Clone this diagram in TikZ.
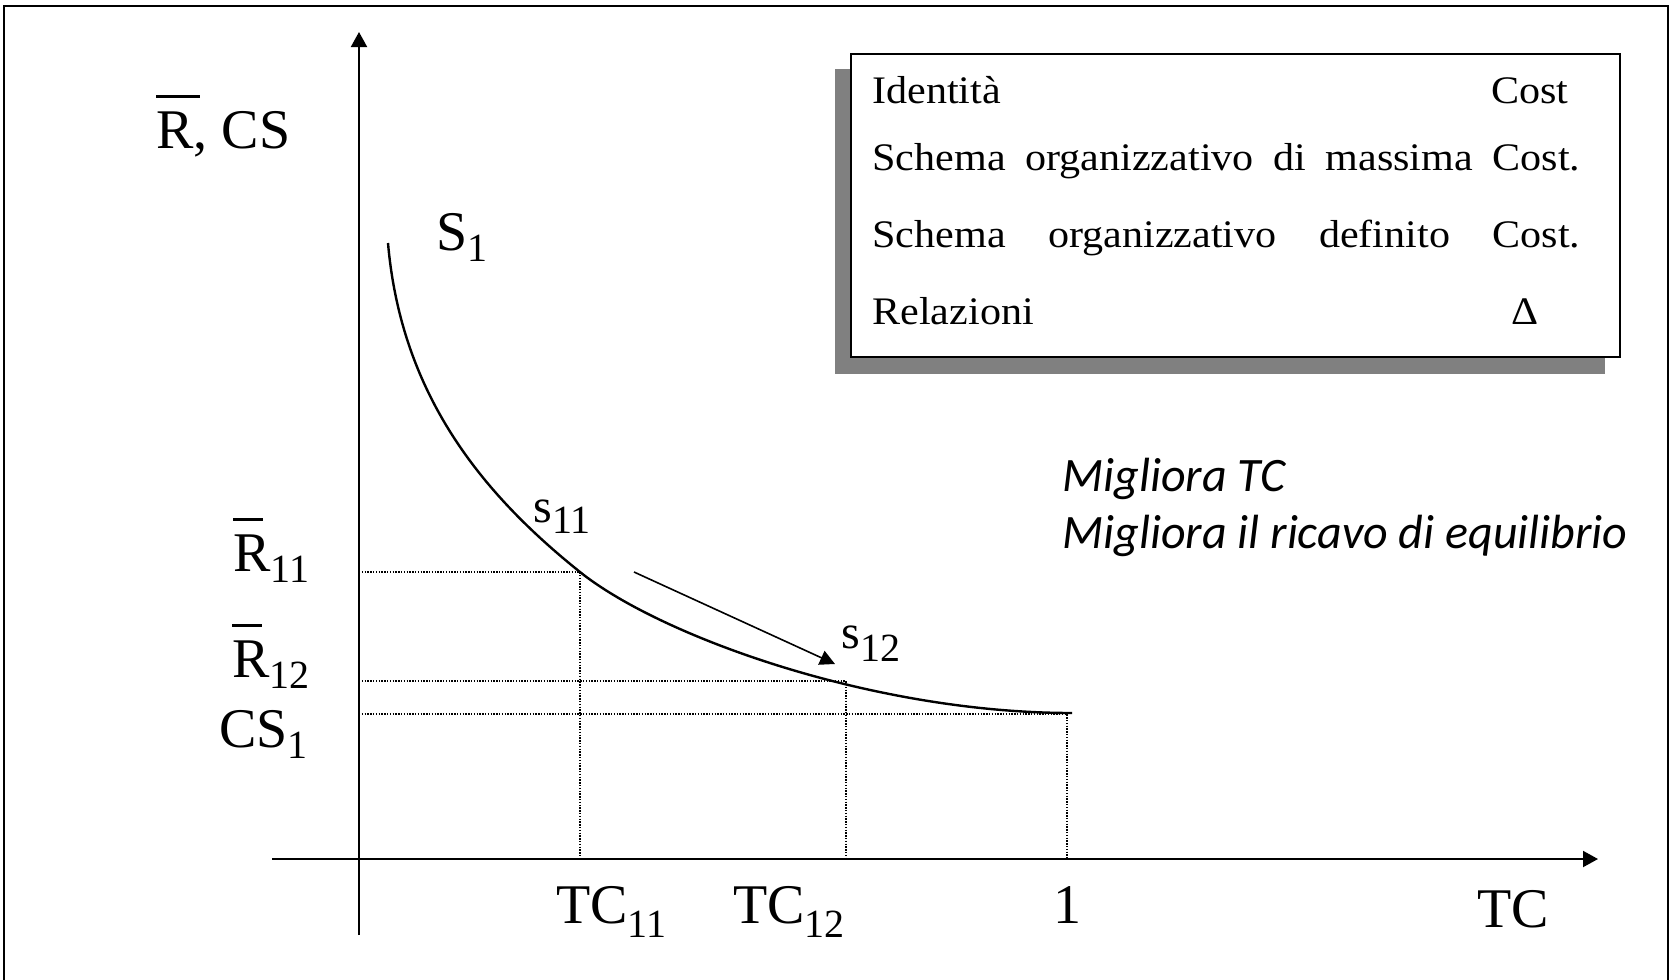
\documentclass[tikz,border=0pt]{standalone}
\usepackage{fontspec}
\setmainfont{Liberation Serif}
\newfontfamily\carlito{Carlito}
\newfontfamily\boxfont[FakeStretch=1.08]{Liberation Serif}
\usetikzlibrary{arrows.meta}
\tikzset{
  axis/.style={line width=1pt, -{Triangle[length=7.5pt,width=8pt]}},
  guide/.style={line width=0.65pt, dash pattern=on 0.65pt off 0.75pt},
  lbl/.style={inner sep=0pt, anchor=base west},
  boxtxt/.style={inner sep=0pt, anchor=base west, font=\boxfont\fontsize{19.5}{19.5}\selectfont},
}
\newcommand{\lowsub}[2][5.5pt]{\raisebox{-#1}{\fontsize{20}{20}\selectfont #2}}
\newcommand{\barR}[2]{\leavevmode\rlap{\kern#1\rule[0.9em]{#2}{1.4pt}}R}

\begin{document}
\begin{tikzpicture}[x=0.5pt,y=-0.5pt]
\useasboundingbox (0,0) rectangle (1671,980);
\draw[line width=1pt] (4,980) -- (4,6) -- (1668,6) -- (1668,980);

\coordinate (ybot) at (359,935);
\coordinate (ytop) at (359,32);
\coordinate (xl) at (272,859);
\coordinate (xr) at (1598,859);
\draw[axis] (ybot) -- (ytop);
\draw[axis] (xl) -- (xr);

\coordinate (s1top) at (388,243);
\coordinate (s11) at (580,572);
\coordinate (s12) at (846,685);
\coordinate (s1end) at (1072,713);
\draw[line width=1.2pt] (s1top) .. controls (401,393) and (480,492) .. (s11)
  .. controls (660,636) and (872,713) .. (s1end);

\coordinate (r11) at (359,572);
\coordinate (t11) at (580,859);
\coordinate (r12) at (359,681);
\coordinate (k12) at (846,681);
\coordinate (t12) at (846,859);
\coordinate (cs1) at (359,714);
\coordinate (k1) at (1067,714);
\coordinate (t1) at (1067,859);
\draw[guide] (r11) -- (s11) -- (t11);
\draw[guide] (r12) -- (k12) -- (t12);
\draw[guide] (cs1) -- (k1) -- (t1);

\coordinate (mvA) at (634,572);
\coordinate (mvB) at (835,664);
\draw[line width=0.8pt, -{Triangle[length=7.5pt,width=7.5pt]}] (mvA) -- (mvB);

\node[lbl, font=\fontsize{28}{28}\selectfont] (ylab) at (156,148) {\barR{0pt}{22pt}, CS};
\node[lbl, font=\fontsize{28}{28}\selectfont] (S1) at (436,250) {S\lowsub{1}};
\node[lbl, font=\fontsize{28}{28}\selectfont] (R11) at (233,571) {\barR{0pt}{15pt}\lowsub{11}};
\node[lbl, font=\fontsize{28}{28}\selectfont] (R12) at (232,677) {\barR{0pt}{15pt}\lowsub{12}};
\node[lbl, font=\fontsize{28}{28}\selectfont] (CS1) at (219,747) {CS\lowsub{1}};
\node[lbl, font=\fontsize{24}{24}\selectfont] (ls11) at (533,522) {s\lowsub{11}};
\node[lbl, font=\fontsize{24}{24}\selectfont] (ls12) at (841,648) {s\lowsub[6.5pt]{12}};
\node[lbl, font=\fontsize{28}{28}\selectfont] (TC11) at (556,923) {TC\lowsub[7pt]{11}};
\node[lbl, font=\fontsize{28}{28}\selectfont] (TC12) at (733,923) {TC\lowsub[7pt]{12}};
\node[inner sep=0pt, anchor=base, font=\fontsize{28}{28}\selectfont] (one) at (1067,923) {1};
\node[lbl, font=\fontsize{28}{28}\selectfont] (TC) at (1477,927) {TC};

\fill[black!50] (835,69) rectangle (1605,374);
\draw[line width=1pt, fill=white] (851,54) rectangle (1620,357);
\node[boxtxt] (id) at (872,103) {Identità};
\node[boxtxt] (idv) at (1491,103) {Cost};
\node[boxtxt] (sm) at (872,170) {\makebox[354pt][s]{Schema organizzativo di massima Cost.}};
\node[boxtxt] (sd) at (872,247) {\makebox[354pt][s]{Schema organizzativo definito Cost.}};
\node[boxtxt] (rel) at (872,324) {Relazioni};
\node[inner sep=0pt, anchor=base, font=\boxfont\fontsize{19.5}{19.5}\selectfont] (relv) at (1525,324) {Δ};

\node[lbl, font=\carlito\itshape\fontsize{24}{24}\selectfont] (m1) at (1062,491) {Migliora TC};
\node[lbl, font=\carlito\itshape\fontsize{24}{24}\selectfont] (m2) at (1062,548) {Migliora il ricavo di equilibrio};
\end{tikzpicture}
\end{document}
